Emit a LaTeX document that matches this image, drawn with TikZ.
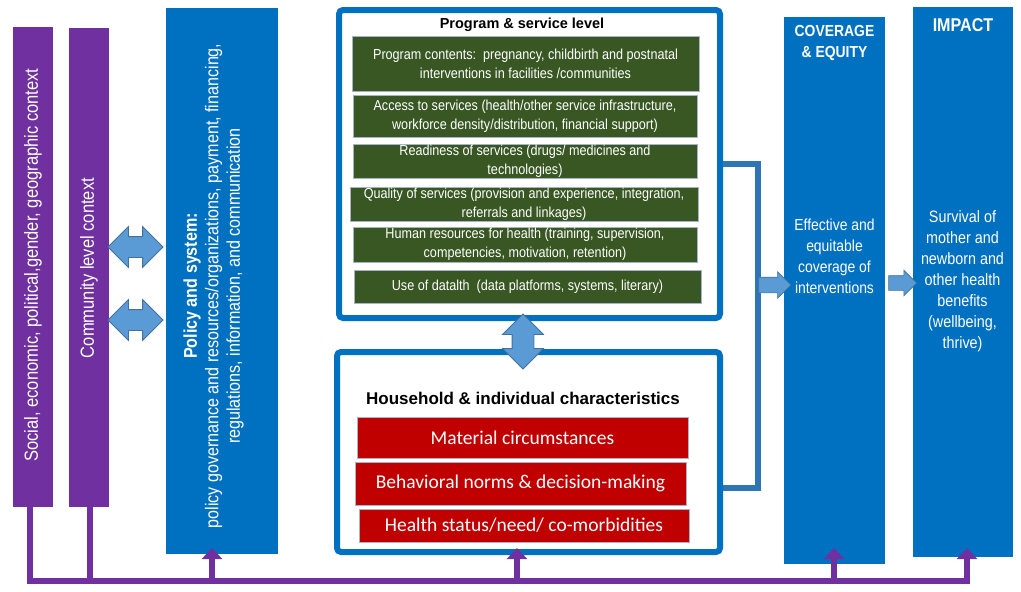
\documentclass[tikz,border=0pt]{standalone}
\usepackage{fontspec}
\setmainfont{Liberation Sans}
\newfontfamily\nar[FakeStretch=0.87]{Liberation Sans}
\newfontfamily\calfnt{Carlito}
\usetikzlibrary{arrows.meta,shapes.arrows}
\definecolor{pur}{HTML}{7030A0}
\definecolor{blu}{HTML}{0070C0}
\definecolor{grn}{HTML}{385723}
\definecolor{redc}{HTML}{C00000}
\definecolor{lblu}{HTML}{5B9BD5}
\definecolor{dblu}{HTML}{41719C}
\definecolor{connc}{HTML}{2E75B6}
\definecolor{edgec}{HTML}{A5B4C8}
\begin{document}
\begin{tikzpicture}[x=1pt,y=-1pt,
  pbar/.style={fill=pur, minimum width=40pt, inner sep=0pt},
  bbox/.style={fill=blu, inner sep=0pt},
  frame/.style={draw=blu, line width=6pt, rounded corners=4pt, fill=white, inner sep=0pt},
  gbox/.style={fill=grn, draw=edgec, line width=0.8pt, inner sep=0pt, text=white, align=center,
    font=\nar\fontsize{14.5}{19}\selectfont},
  rbox/.style={fill=redc, draw=edgec, line width=1pt, inner sep=0pt, text=white,
    font=\calfnt\fontsize{19.5}{22}\selectfont},
  wtxt/.style={text=white, align=center, inner sep=0pt},
  dbl/.style={double arrow, fill=lblu, draw=dblu, line width=0.8pt, inner xsep=0pt,
    inner ysep=10pt, minimum height=55pt, double arrow head extend=10pt},
  sarr/.style={single arrow, fill=lblu, draw=dblu, line width=0.6pt, inner xsep=0pt,
    inner ysep=7.5pt, single arrow head extend=5.5pt},
  pline/.style={draw=pur, line width=6pt},
  parr/.style={draw=pur, line width=6pt, -{Triangle[width=20pt,length=11pt]}},
  cline/.style={draw=connc, line width=5.5pt}
]
\useasboundingbox (0,0) rectangle (1021,592);

% context bars
\node[pbar, minimum height=480pt] (social) at (33,267) {};
\node[pbar, minimum height=479pt] (community) at (89,267.5) {};
\node[wtxt, rotate=90, font=\nar\fontsize{19}{22}\selectfont] (socialtxt) at (33,265)
  {Social, economic, political,gender, geographic context};
\node[wtxt, rotate=90, font=\nar\fontsize{19}{22}\selectfont] (communitytxt) at (89,268)
  {Community level context};

% policy
\node[bbox, minimum width=112pt, minimum height=546pt] (policy) at (222,281) {};
\node[wtxt, rotate=90, font=\nar\fontsize{18.5}{21.5}\selectfont] (policytxt) at (213.5,286)
  {{\bfseries Policy and system:}\\policy governance and resources/organizations, payment, financing,\\regulations, information, and communication};

% program & service level
\node[frame, minimum width=381pt, minimum height=308pt] (program) at (529.5,164) {};
\node[font=\bfseries\fontsize{14.5}{17}\selectfont, inner sep=0pt] (progtitle) at (522,25) {Program \& service level};
\node[gbox, minimum width=347pt, minimum height=55pt] (g1) at (525.5,63.5)
  {Program contents:\ \ pregnancy, childbirth and postnatal\\interventions in facilities /communities};
\node[gbox, minimum width=344pt, minimum height=42pt] (g2) at (525,116)
  {Access to services (health/other service infrastructure,\\workforce density/distribution, financial support)};
\node[gbox, minimum width=344pt, minimum height=34pt] (g3) at (525,161)
  {Readiness of services (drugs/ medicines and\\technologies)};
\node[gbox, minimum width=348pt, minimum height=34pt] (g4) at (524,204)
  {Quality of services (provision and experience, integration,\\referrals and linkages)};
\node[gbox, minimum width=344pt, minimum height=35pt] (g5) at (525,244.5)
  {Human resources for health (training, supervision,\\competencies, motivation, retention)};
\node[gbox, minimum width=347pt, minimum height=33pt] (g6) at (527.5,286.5)
  {Use of datalth\ \ (data platforms, systems, literary)};

% household
\node[frame, minimum width=383pt, minimum height=200pt] (household) at (528.5,452) {};
\node[font=\bfseries\fontsize{17}{20}\selectfont, inner sep=0pt] (hhtitle) at (523,398) {Household \& individual characteristics};
\node[rbox, minimum width=331pt, minimum height=41pt] (r1) at (522.5,437.5) {Material circumstances};
\node[rbox, minimum width=331pt, minimum height=43pt] (r2) at (520.5,483.5) {Behavioral norms \& decision-making};
\node[rbox, minimum width=330pt, minimum height=33pt] (r3) at (524,525.5) {Health status/need/ co-morbidities};

% coverage and impact
\node[bbox, minimum width=101pt, minimum height=547pt] (coverage) at (834.5,290.5) {};
\node[wtxt, font=\nar\bfseries\fontsize{16}{21}\selectfont] (covtitle) at (834.5,42.5) {COVERAGE\\\& EQUITY};
\node[wtxt, font=\nar\fontsize{16}{21}\selectfont] (covtxt) at (834.5,256.5)
  {Effective and\\equitable\\coverage of\\interventions};
\node[bbox, minimum width=100pt, minimum height=550pt] (impact) at (963,282) {};
\node[wtxt, font=\nar\bfseries\fontsize{18.5}{21}\selectfont] (imptitle) at (963,25) {IMPACT};
\node[wtxt, font=\nar\fontsize{16.5}{21}\selectfont] (imptxt) at (962.5,281.5)
  {Survival of\\mother and\\newborn and\\other health\\benefits\\(wellbeing,\\thrive)};

% connector from program and household to coverage
\coordinate (cTop) at (758,164);
\coordinate (cBot) at (758,488);
\draw[cline] (program.east) -- (cTop) -- (cBot) -- (household.east |- cBot);

% block arrows
\node[dbl] (dbl1) at (135.5,247) {};
\node[dbl] (dbl2) at (135.5,320) {};
\node[dbl, rotate=90, inner ysep=10.5pt, double arrow head extend=9.5pt] (dbl3) at (523,341.5) {};
\node[sarr, minimum height=32pt] (arr1) at (771,285) {};
\node[sarr, minimum height=28pt, inner ysep=7pt] (arr2) at (899,283) {};

% purple bus
\coordinate (busL) at (30,581);
\coordinate (busC) at (90,581);
\coordinate (bP) at (212,581);
\coordinate (bH) at (517,581);
\coordinate (bC) at (834,581);
\coordinate (bI) at (967,581);
\coordinate (tP) at (212,548);
\coordinate (tH) at (517,548);
\coordinate (tC) at (834,548);
\coordinate (tI) at (967,548);
\draw[pline] (social.south -| busL) -- (busL) -- (bI);
\draw[pline] (community.south -| busC) -- (busC);
\draw[parr] ([yshift=-3pt]bP) -- (tP);
\draw[parr] ([yshift=-3pt]bH) -- (tH);
\draw[parr] ([yshift=-3pt]bC) -- (tC);
\draw[parr] ([yshift=-3pt]bI) -- (tI);
\end{tikzpicture}
\end{document}
